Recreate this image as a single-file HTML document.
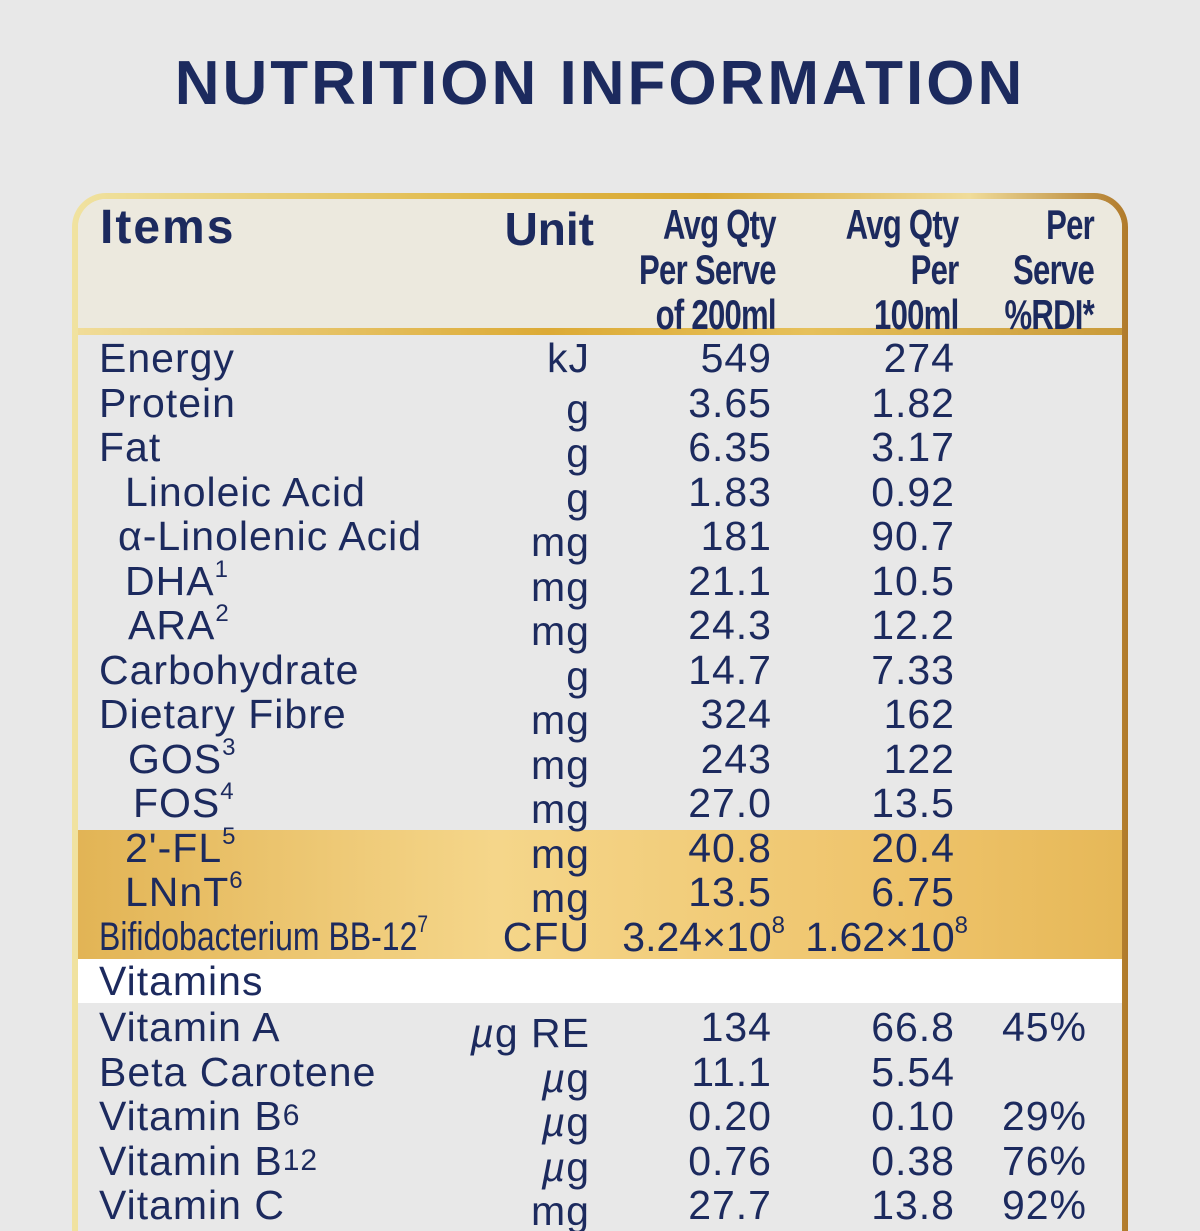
<!DOCTYPE html>
<html style="height:1231px;overflow:hidden"><head><meta charset="utf-8"><style>
html,body{margin:0;width:1200px;height:1231px;overflow:hidden}
body{background:#e8e8e8;position:relative;font-family:"Liberation Sans","DejaVu Sans",sans-serif;color:#1c2a5e}
.title{position:absolute;top:44px;left:0;width:1200px;text-align:center;font-size:62px;font-weight:bold;letter-spacing:3px;line-height:80px}
.box{position:absolute;left:72px;top:193px;width:1056px;height:1080px;border-radius:34px;background:linear-gradient(90deg,#f0e2a0,#e0b848 40%,#d9a833 60%,#f0dc9a 85%,#b07a2a);}
.inner{position:absolute;left:78px;top:199px;width:1044px;height:1080px;border-radius:28px 28px 0 0;background:#e8e8e8;overflow:hidden}
.hdr{position:absolute;left:0;top:0;width:1044px;height:129px;background:#ece9de}
.hline{position:absolute;left:0;top:129px;width:1044px;height:7px;background:linear-gradient(90deg,#f0dc98,#dcaa35 45%,#e6c05a 70%,#c99a3a)}
.band{position:absolute;left:0;top:631px;width:1044px;height:129px;background:linear-gradient(90deg,#e2b455,#f5d68a 40%,#eec36a 80%,#e6b858)}
.white{position:absolute;left:0;top:760px;width:1044px;height:44px;background:#fff}
.h{position:absolute;font-weight:bold}
.hn{position:absolute;font-size:42px;font-weight:bold;line-height:45px;text-align:right;transform:scaleX(.74);transform-origin:right top;letter-spacing:-1px}
.row{position:absolute;left:0;width:1200px;height:44.5px;font-size:41px;line-height:44.5px;letter-spacing:1px}
.row span{position:absolute;white-space:nowrap}
.u{right:610px;top:6px}.a{right:428px}.b{right:245px}.c{right:113px}
sup{font-size:24px;vertical-align:18px;line-height:0}
.sub{font-size:30px}
</style></head><body>
<div class="title">NUTRITION INFORMATION</div>
<div class="box"></div>
<div class="inner">
<div class="hdr"></div>
<div class="hline"></div>
<div class="band"></div>
<div class="white"></div>
</div>
<div class="h" style="left:100px;top:200px;font-size:48px;letter-spacing:2px">Items</div>
<div class="h" style="right:606px;top:202px;font-size:46px">Unit</div>
<div class="hn" style="right:424px;top:202px">Avg Qty<br>Per Serve<br>of 200ml</div>
<div class="hn" style="right:242px;top:202px">Avg Qty<br>Per<br>100ml</div>
<div class="hn" style="right:106px;top:202px">Per<br>Serve<br>%RDI*</div>

<div class="row" style="top:336px"><span style="left:99px">Energy</span><span class="u" style="top:0">kJ</span><span class="a">549</span><span class="b">274</span></div>
<div class="row" style="top:380.5px"><span style="left:99px">Protein</span><span class="u">g</span><span class="a">3.65</span><span class="b">1.82</span></div>
<div class="row" style="top:425px"><span style="left:99px">Fat</span><span class="u">g</span><span class="a">6.35</span><span class="b">3.17</span></div>
<div class="row" style="top:469.5px"><span style="left:125px">Linoleic Acid</span><span class="u">g</span><span class="a">1.83</span><span class="b">0.92</span></div>
<div class="row" style="top:514px"><span style="left:118px">α-Linolenic Acid</span><span class="u">mg</span><span class="a">181</span><span class="b">90.7</span></div>
<div class="row" style="top:558.5px"><span style="left:125px">DHA<sup>1</sup></span><span class="u">mg</span><span class="a">21.1</span><span class="b">10.5</span></div>
<div class="row" style="top:603px"><span style="left:128px">ARA<sup>2</sup></span><span class="u">mg</span><span class="a">24.3</span><span class="b">12.2</span></div>
<div class="row" style="top:647.5px"><span style="left:99px">Carbohydrate</span><span class="u">g</span><span class="a">14.7</span><span class="b">7.33</span></div>
<div class="row" style="top:692px"><span style="left:99px">Dietary Fibre</span><span class="u">mg</span><span class="a">324</span><span class="b">162</span></div>
<div class="row" style="top:736.5px"><span style="left:128px">GOS<sup>3</sup></span><span class="u">mg</span><span class="a">243</span><span class="b">122</span></div>
<div class="row" style="top:781px"><span style="left:133px">FOS<sup>4</sup></span><span class="u">mg</span><span class="a">27.0</span><span class="b">13.5</span></div>
<div class="row" style="top:825.5px"><span style="left:125px">2'-FL<sup>5</sup></span><span class="u">mg</span><span class="a">40.8</span><span class="b">20.4</span></div>
<div class="row" style="top:870px"><span style="left:125px">LNnT<sup>6</sup></span><span class="u">mg</span><span class="a">13.5</span><span class="b">6.75</span></div>
<div class="row" style="top:914.5px"><span style="left:99px;transform:scaleX(.8);transform-origin:left;font-size:40px;letter-spacing:0">Bifidobacterium BB-12<sup>7</sup></span><span class="u" style="top:0">CFU</span><span style="right:415px;letter-spacing:0">3.24×10<sup>8</sup></span><span style="right:232px;letter-spacing:0">1.62×10<sup>8</sup></span></div>
<div class="row" style="top:959px"><span style="left:99px">Vitamins</span></div>
<div class="row" style="top:1005px"><span style="left:99px">Vitamin A</span><span class="u"><i>µ</i>g RE</span><span class="a">134</span><span class="b">66.8</span><span class="c">45%</span></div>
<div class="row" style="top:1049.5px"><span style="left:99px">Beta Carotene</span><span class="u"><i>µ</i>g</span><span class="a">11.1</span><span class="b">5.54</span></div>
<div class="row" style="top:1094px"><span style="left:99px">Vitamin B<span class="sub">6</span></span><span class="u"><i>µ</i>g</span><span class="a">0.20</span><span class="b">0.10</span><span class="c">29%</span></div>
<div class="row" style="top:1138.5px"><span style="left:99px">Vitamin B<span class="sub">12</span></span><span class="u"><i>µ</i>g</span><span class="a">0.76</span><span class="b">0.38</span><span class="c">76%</span></div>
<div class="row" style="top:1183px"><span style="left:99px">Vitamin C</span><span class="u">mg</span><span class="a">27.7</span><span class="b">13.8</span><span class="c">92%</span></div>
</body></html>
